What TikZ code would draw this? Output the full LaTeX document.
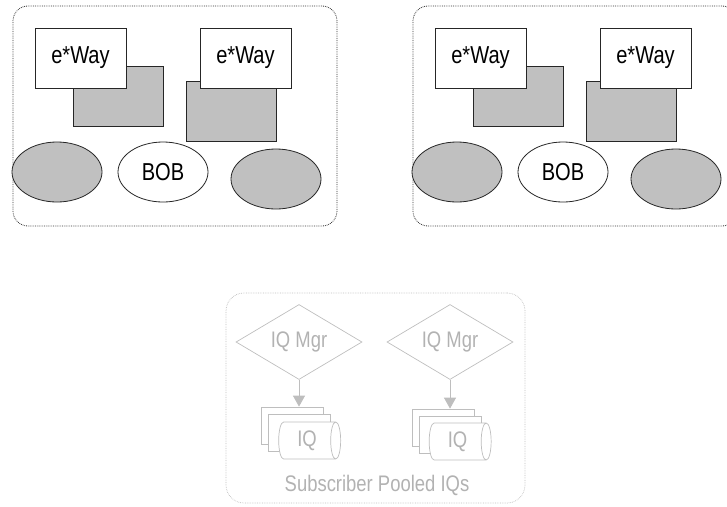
\documentclass[tikz,border=0pt]{standalone}
\usepackage{fontspec}
\setmainfont{Liberation Sans}[FakeStretch=0.82]
\usetikzlibrary{shapes.geometric,arrows.meta}
\definecolor{boxgray}{RGB}{192,192,192}
\definecolor{lgray}{RGB}{190,190,190}
\definecolor{ltext}{RGB}{178,178,178}
\begin{document}
\begin{tikzpicture}[x=1pt,y=-1pt,
  panel/.style={draw=black!80, densely dotted, line width=0.8pt, rounded corners=15pt, rectangle, inner sep=0pt},
  ewaybox/.style={draw=black!85, line width=0.8pt, fill=white, minimum width=91pt, minimum height=60pt, inner sep=0pt, font=\fontsize{24.5}{28}\selectfont},
  grayrect/.style={draw=black!85, line width=0.8pt, fill=boxgray, minimum width=90pt, minimum height=60pt, inner sep=0pt},
  grayell/.style={ellipse, draw=black!85, line width=0.8pt, fill=boxgray, minimum width=90pt, minimum height=60pt, inner sep=0pt},
  bobell/.style={ellipse, draw=black!85, line width=0.8pt, fill=white, minimum width=90pt, minimum height=60pt, inner sep=0pt, font=\fontsize{24.5}{28}\selectfont},
  lpanel/.style={draw=lgray, densely dotted, line width=0.7pt, rounded corners=18pt, rectangle, inner sep=0pt},
  mgr/.style={diamond, draw=lgray, line width=0.7pt, aspect=1.68, minimum width=126pt, minimum height=75pt, inner sep=0pt, text=ltext, font=\fontsize{22.5}{26}\selectfont},
  cyl/.style={cylinder, draw=lgray, line width=0.7pt, fill=white, minimum width=37pt, minimum height=62pt, shape aspect=0.5, inner sep=0pt, text=ltext, font=\fontsize{22.5}{26}\selectfont},
  garrow/.style={draw=lgray, line width=1pt, -{Triangle[width=12pt,length=11pt,fill=lgray]}}
]
\useasboundingbox (0,0) rectangle (727,506);

% top-left panel
\node[panel, minimum width=324pt, minimum height=220pt] (pA) at (175,116) {};
\node[grayrect] (gA1) at (118,96) {};
\node[ewaybox] (eA1) at (80.5,58) {e*Way};
\node[grayrect] (gA2) at (231,111) {};
\node[ewaybox] (eA2) at (245.5,58) {e*Way};
\node[grayell] (oA1) at (57,172) {};
\node[bobell] (bA) at (163,172) {BOB};
\node[grayell] (oA2) at (276,179) {};

% top-right panel
\node[panel, minimum width=324pt, minimum height=220pt] (pB) at (575,116) {};
\node[grayrect] (gB1) at (518,96) {};
\node[ewaybox] (eB1) at (480.5,58) {e*Way};
\node[grayrect] (gB2) at (631,111) {};
\node[ewaybox] (eB2) at (645.5,58) {e*Way};
\node[grayell] (oB1) at (457,172) {};
\node[bobell] (bB) at (563,172) {BOB};
\node[grayell] (oB2) at (676,179) {};

% bottom panel
\node[lpanel, minimum width=299pt, minimum height=210pt] (pC) at (375.5,398) {};
\node[mgr] (m1) at (299,342) {IQ Mgr};
\node[mgr] (m2) at (450,342) {IQ Mgr};

\node[cyl] (c1a) at (292,425.5) {};
\node[cyl] (c1b) at (299.5,433) {};
\node[cyl] (c1c) at (307,440.5) {IQ};

\node[cyl] (c2a) at (443.5,427.5) {};
\node[cyl] (c2b) at (450.5,434.5) {};
\node[cyl] (c2c) at (457.5,441.5) {IQ};

\draw[garrow] (m1.south) -- (m1.south |- c1a.north);
\draw[garrow] (m2.south) -- (m2.south |- c2a.north);

\node[text=ltext, font=\fontsize{22.5}{26}\selectfont] (lab) at (377,485) {Subscriber Pooled IQs};
\end{tikzpicture}
\end{document}
